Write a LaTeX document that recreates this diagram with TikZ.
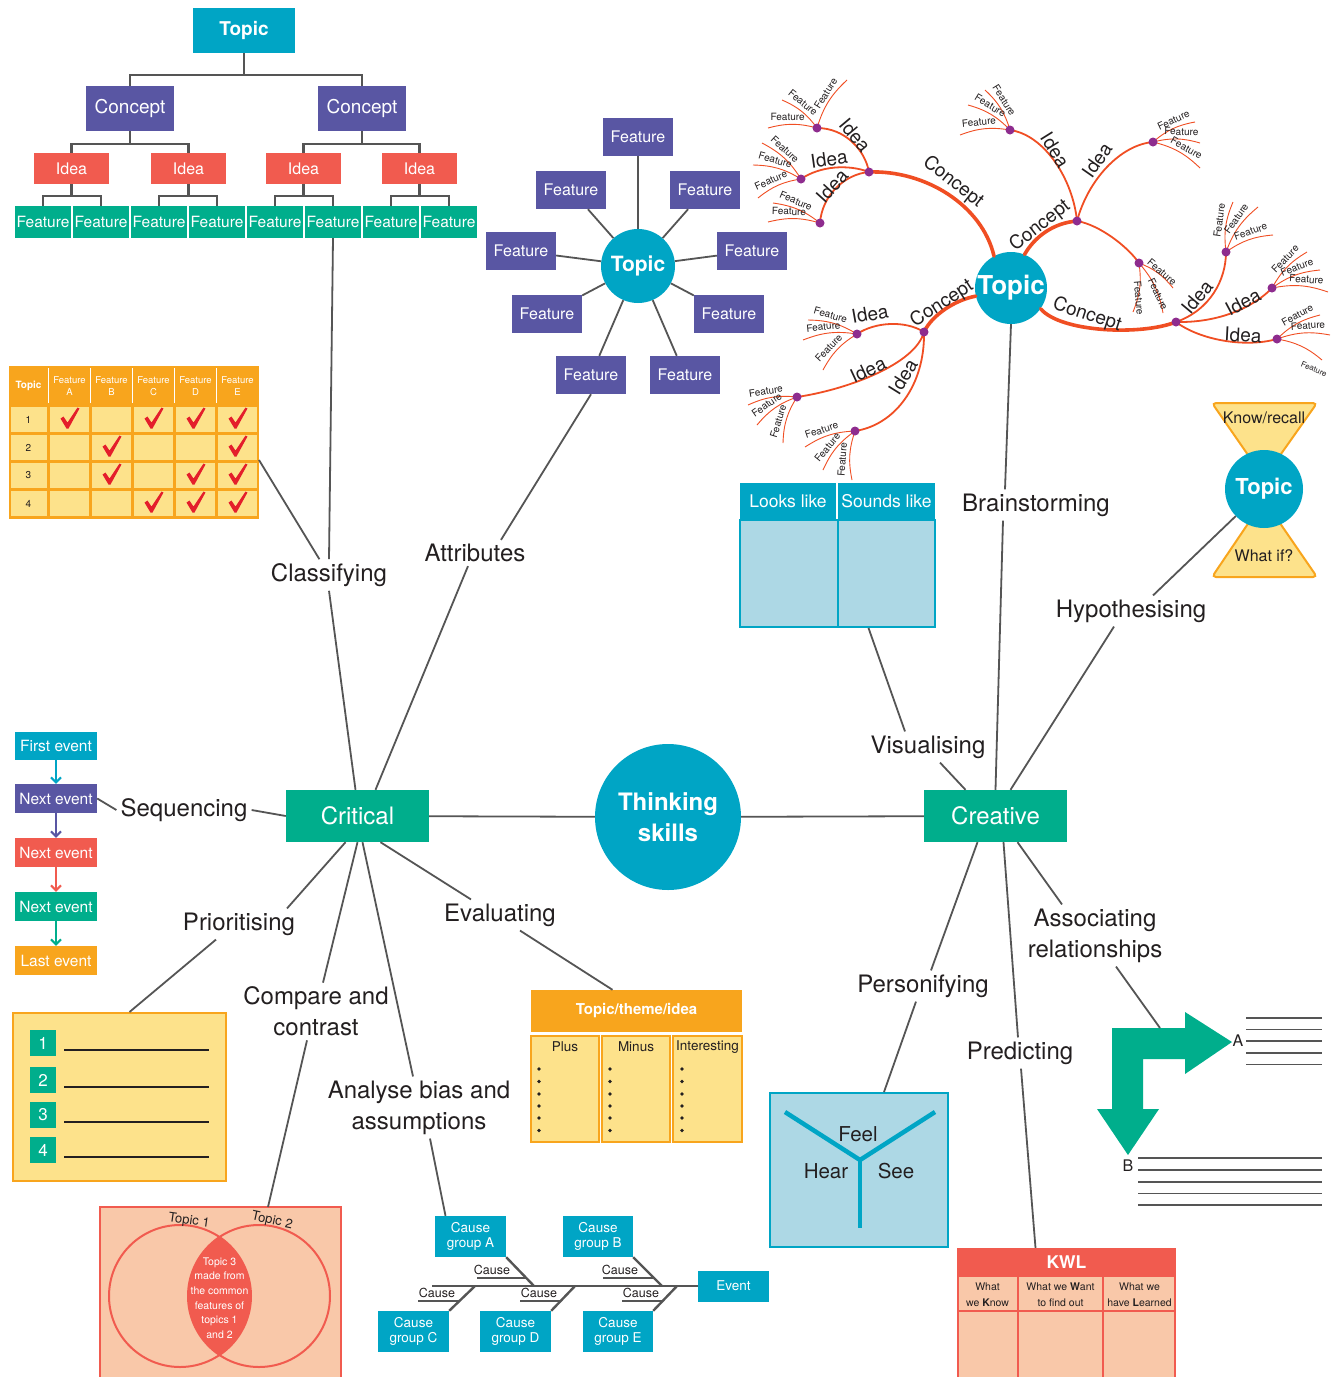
\documentclass[tikz,border=0pt]{standalone}
\usepackage{fontspec}
\setmainfont{TeX Gyre Heros}
\usetikzlibrary{arrows.meta,calc}

\definecolor{cblue}{HTML}{00A5C5}
\definecolor{cpurple}{HTML}{5956A3}
\definecolor{cred}{HTML}{F15B4F}
\definecolor{cgreen}{HTML}{00AE8C}
\definecolor{corange}{HTML}{F8A51D}
\definecolor{cyellow}{HTML}{FDE28B}
\definecolor{cpeach}{HTML}{F9C8A9}
\definecolor{clblue}{HTML}{ADD8E5}
\definecolor{cgrey}{HTML}{555555}
\definecolor{cink}{HTML}{231F20}
\definecolor{mmorange}{HTML}{F04E23}
\definecolor{mmpurple}{HTML}{8E2C8E}
\definecolor{ccheck}{HTML}{E41E2B}

\newcommand\fsz[2]{\fontsize{#1}{#2}\selectfont}
% red tick mark centred at (#1,#2)
\newcommand\chk[2]{\fill[ccheck,shift={(#1,#2)}] (-9,-1) -- (-6,-3) -- (-2,3) -- (8,-12) -- (10,-11) -- (-1,9) -- (-3,9) -- cycle;}
% feature whisker of the mind map: dot, end, text position, text angle, bend, font size
\newcommand\ftr[6]{\draw[mmfeat] (#1) to[bend left=#5] (#2);
  \node[mmtxt,font=\fsz{#6}{#6},rotate=#4] at (#3) {Feature};}

\begin{document}
\begin{tikzpicture}[x=1pt,y=-1pt,
  box/.style={rectangle,inner sep=0pt,text=white,align=center},
  lbl/.style={font=\fsz{24}{31},text=cink,align=center,inner sep=4pt},
  conn/.style={draw=cgrey,line width=1.8},
  tree/.style={draw=cgrey,line width=2.4},
  fish/.style={draw=cgrey,line width=2.4},
  mmconcept/.style={draw=mmorange,line width=3.6,line cap=round},
  mmidea/.style={draw=mmorange,line width=1.8},
  mmfeat/.style={draw=mmorange,line width=0.9},
  mmdotn/.style={circle,fill=mmpurple,inner sep=0pt,minimum size=9},
  mmtxt/.style={text=cink,inner sep=0pt},
  smalltxt/.style={text=cink,align=center,inner sep=0pt},
  seqarrow/.style={line width=2,-{Straight Barb[length=5pt,width=10pt]}},
]
\useasboundingbox (0,0) rectangle (1334,1377);
\fill[white] (0,0) rectangle (1334,1377);

%% ---------- hierarchy tree ----------
\node[box,fill=cblue,minimum width=102,minimum height=45,font=\bfseries\fsz{19}{19}] (tt) at (244,30.5) {Topic};
\node[box,fill=cpurple,minimum width=88,minimum height=45,font=\fsz{19}{19}] (tc1) at (130,108.5) {Concept};
\node[box,fill=cpurple,minimum width=88,minimum height=45,font=\fsz{19}{19}] (tc2) at (362,108.5) {Concept};
\foreach \x/\n in {71.5/1,188.5/2,303.5/3,419.5/4}
  \node[box,fill=cred,minimum width=75,minimum height=31,font=\fsz{16}{16}] (ti\n) at (\x,168.5) {Idea};
\foreach \x [count=\n] in {43,101,159,217,275,333,391,449}
  \node[box,fill=cgreen,minimum width=56,minimum height=32,font=\fsz{15.5}{15.5}] (tf\n) at (\x,222) {Feature};
\draw[tree] (tt.south) -- (244,75) -| (tc1.north);
\draw[tree] (244,75) -| (tc2.north);
\draw[tree] (tc1.south) -- (130,144) -| (ti1.north);
\draw[tree] (130,144) -| (ti2.north);
\draw[tree] (tc2.south) -- (362,144) -| (ti3.north);
\draw[tree] (362,144) -| (ti4.north);
\draw[tree] (ti1.south) -- (71.5,196) -| (tf1.north);
\draw[tree] (71.5,196) -| (tf2.north);
\draw[tree] (ti2.south) -- (188.5,196) -| (tf3.north);
\draw[tree] (188.5,196) -| (tf4.north);
\draw[tree] (ti3.south) -- (303.5,196) -| (tf5.north);
\draw[tree] (303.5,196) -| (tf6.north);
\draw[tree] (ti4.south) -- (419.5,196) -| (tf7.north);
\draw[tree] (419.5,196) -| (tf8.north);

%% ---------- classifying table ----------
\fill[corange] (9,366) rectangle (259,519);
\foreach \x in {48.5,90.5,132.5,174.5,216.5}
  \draw[white,line width=1.5] (\x,368) -- (\x,403);
\foreach \xa/\xb in {11/47,50/89,92/131,134/173,176/215,218/257}
  \foreach \ya/\yb in {407/432,435/460,463/488,491/516}
    \fill[cyellow] (\xa,\ya) rectangle (\xb,\yb);
\node[font=\bfseries\fsz{10}{10},text=white,inner sep=0pt] (tbtopic) at (28.5,386) {Topic};
\foreach \x/\l in {69.5/A,111.5/B,153.5/C,195.5/D,237.5/E}
  \node[font=\fsz{9.5}{12},text=white,align=center,inner sep=0pt] (tbh\l) at (\x,386) {Feature\\\l};
\foreach \y/\n in {419.5/1,447.5/2,475.5/3,503.5/4}
  \node[font=\fsz{10}{10},text=cink,inner sep=0pt] (tbr\n) at (28.5,\y) {\n};
\chk{69.5}{419.5}\chk{153.5}{419.5}\chk{195.5}{419.5}\chk{237.5}{419.5}
\chk{111.5}{447.5}\chk{237.5}{447.5}
\chk{111.5}{475.5}\chk{195.5}{475.5}\chk{237.5}{475.5}
\chk{153.5}{503.5}\chk{195.5}{503.5}\chk{237.5}{503.5}
\coordinate (tblr) at (259,460);

%% ---------- attribute star ----------
\node[circle,fill=cblue,minimum size=74,inner sep=0pt,text=white,font=\bfseries\fsz{21}{21}] (atop) at (638,266) {Topic};
\foreach \x/\y [count=\n] in {638/137,571/190,705/190,521/251,752/251,547/314,729/314,591/375,685/375}{
  \node[box,fill=cpurple,minimum width=70,minimum height=38,font=\fsz{16}{16}] (af\n) at (\x,\y) {Feature};
  \draw[conn] (atop) -- (af\n);
}

%% ---------- sequence ----------
\node[box,fill=cblue,minimum width=82,minimum height=28,font=\fsz{15.5}{15.5}] (sq1) at (56,746) {First event};
\node[box,fill=cpurple,minimum width=82,minimum height=29,font=\fsz{15.5}{15.5}] (sq2) at (56,798.5) {Next event};
\node[box,fill=cred,minimum width=82,minimum height=29,font=\fsz{15.5}{15.5}] (sq3) at (56,852.5) {Next event};
\node[box,fill=cgreen,minimum width=82,minimum height=29,font=\fsz{15.5}{15.5}] (sq4) at (56,906.5) {Next event};
\node[box,fill=corange,minimum width=82,minimum height=29,font=\fsz{15.5}{15.5}] (sq5) at (56,960.5) {Last event};
\draw[seqarrow,cblue] (sq1) -- (sq2);
\draw[seqarrow,cpurple] (sq2) -- (sq3);
\draw[seqarrow,cred] (sq3) -- (sq4);
\draw[seqarrow,cgreen] (sq4) -- (sq5);

%% ---------- priority list ----------
\node[box,fill=cyellow,draw=corange,line width=2,minimum width=213,minimum height=168] (pbox) at (119.5,1097) {};
\foreach \y/\n in {1043/1,1080/2,1115/3,1150/4}{
  \node[box,fill=cgreen,minimum size=26,font=\fsz{17}{17}] (pn\n) at (43,\y) {\n};
  \draw[cink,line width=1.2] (64,\y+7) -- (209,\y+7);
}

%% ---------- Venn diagram ----------
\fill[cpeach] (100,1207) rectangle (341,1377);
\draw[cred,line width=2] (100,1377) -- (100,1207) -- (341,1207) -- (341,1377);
\coordinate (venntop) at (268,1207);
\begin{scope}
  \clip (180,1296) circle[radius=71pt];
  \fill[cred] (259,1296) circle[radius=71pt];
\end{scope}
\draw[cred,line width=2] (180,1296) circle[radius=71pt];
\draw[cred,line width=2] (259,1296) circle[radius=71pt];
\node[text=white,font=\fsz{10.5}{14.7},align=center,inner sep=0pt] (vtxt) at (219.5,1298) {Topic 3\\made from\\the common\\features of\\topics 1\\and 2};
\node[mmtxt,font=\fsz{13}{13},rotate=-8] (vt1) at (189,1221) {Topic 1};
\node[mmtxt,font=\fsz{13}{13},rotate=-12] (vt2) at (272,1221) {Topic 2};

%% ---------- fishbone ----------
\node[box,fill=cblue,minimum width=71,minimum height=41,font=\fsz{13.5}{15.7}] (cga) at (470.5,1236.5) {Cause\\group A};
\node[box,fill=cblue,minimum width=70,minimum height=41,font=\fsz{13.5}{15.7}] (cgb) at (598,1236.5) {Cause\\group B};
\node[box,fill=cblue,minimum width=71,minimum height=41,font=\fsz{13.5}{15.7}] (cgc) at (413.5,1331.5) {Cause\\group C};
\node[box,fill=cblue,minimum width=71,minimum height=41,font=\fsz{13.5}{15.7}] (cgd) at (515.5,1331.5) {Cause\\group D};
\node[box,fill=cblue,minimum width=70,minimum height=41,font=\fsz{13.5}{15.7}] (cge) at (618,1331.5) {Cause\\group E};
\node[box,fill=cblue,minimum width=71,minimum height=31,font=\fsz{13.5}{13.5}] (evt) at (733.5,1286) {Event};
\draw[fish] (432,1286) -- (evt.west);
\draw[fish] (cga.south east) -- (534,1286);
\draw[fish] (cgb.south east) -- (662,1286);
\draw[fish] (cgc.north east) -- (475,1286);
\draw[fish] (cgd.north east) -- (575,1286);
\draw[fish] (cge.north east) -- (677,1286);
\draw[fish] (477,1278) -- (526,1278);
\draw[fish] (603,1278) -- (654,1278);
\draw[fish] (418,1301) -- (460,1301);
\draw[fish] (520,1301) -- (561,1301);
\draw[fish] (622,1301) -- (663,1301);
\node[mmtxt,font=\fsz{12.5}{12.5}] (ca1) at (492,1270) {Cause};
\node[mmtxt,font=\fsz{12.5}{12.5}] (ca2) at (620,1270) {Cause};
\node[mmtxt,font=\fsz{12.5}{12.5}] (ca3) at (437,1293) {Cause};
\node[mmtxt,font=\fsz{12.5}{12.5}] (ca4) at (539,1293) {Cause};
\node[mmtxt,font=\fsz{12.5}{12.5}] (ca5) at (641,1293) {Cause};

%% ---------- plus / minus / interesting ----------
\node[box,fill=corange,minimum width=211,minimum height=42,font=\bfseries\fsz{15}{15}] (pmih) at (636.5,1011) {Topic/theme/idea};
\node[box,fill=cyellow,draw=corange,line width=2,minimum width=68,minimum height=106] (pmi1) at (565,1089) {};
\node[box,fill=cyellow,draw=corange,line width=2,minimum width=68,minimum height=106] (pmi2) at (636,1089) {};
\node[box,fill=cyellow,draw=corange,line width=2,minimum width=69,minimum height=106] (pmi3) at (707.5,1089) {};
\node[mmtxt,font=\fsz{13.5}{13.5}] (pmt1) at (565,1047) {Plus};
\node[mmtxt,font=\fsz{13.5}{13.5}] (pmt2) at (636,1047) {Minus};
\node[mmtxt,font=\fsz{13.5}{13.5}] (pmt3) at (707.5,1047) {Interesting};
\foreach \x in {539,610,682}
  \foreach \y in {1069,1081.5,1094,1106,1118,1130.5}
    \fill[cink] (\x,\y) circle[radius=1.8pt];

%% ---------- centre ----------
\node[circle,fill=cblue,minimum size=146,inner sep=0pt,text=white,align=center,font=\bfseries\fsz{24}{31}] (think) at (668,817) {Thinking\\skills};
\node[box,fill=cgreen,minimum width=143,minimum height=52,font=\fsz{24}{24}] (crit) at (357.5,816) {Critical};
\node[box,fill=cgreen,minimum width=143,minimum height=52,font=\fsz{24}{24}] (creat) at (995.5,816) {Creative};
\draw[conn] (crit) -- (think);
\draw[conn] (think) -- (creat);

%% ---------- critical thinking labels ----------
\node[lbl] (lclass) at (329,575) {Classifying};
\node[lbl] (lattr) at (475,553) {Attributes};
\node[lbl] (lseq) at (184,810) {Sequencing};
\node[lbl] (lprio) at (239,924) {Prioritising};
\node[lbl] (lcomp) at (316,1011.5) {Compare and\\contrast};
\node[lbl] (lbias) at (419,1107.5) {Analyse bias and\\assumptions};
\node[lbl] (leval) at (500,915) {Evaluating};

\draw[conn] (tf6.south) -- (lclass.north);
\draw[conn] (tblr) -- (lclass);
\draw[conn] (lclass.south) -- ($(crit.north)+(-2,0)$);
\draw[conn] (af8.south) -- ($(lattr.north)+(26,0)$);
\draw[conn] ($(lattr.south)+(-7,0)$) -- ($(crit.north)+(18,0)$);
\draw[conn] (sq2.east) -- (lseq.west);
\draw[conn] (lseq.east) -- (crit.west);
\draw[conn] ($(crit.south)+(-12,0)$) -- ($(lprio.north)+(48,0)$);
\draw[conn] ($(lprio.south)+(-23,0)$) -- ($(pbox.north)+(10,0)$);
\draw[conn] (crit.south) -- ($(lcomp.north)+(7,0)$);
\draw[conn] ($(lcomp.south)+(-9,0)$) -- (venntop);
\draw[conn] ($(crit.south)+(5,0)$) -- ($(lbias.north)+(-6,0)$);
\draw[conn] ($(lbias.south)+(11,0)$) -- ($(cga.north)+(-25,0)$);
\draw[conn] ($(crit.south)+(23,0)$) -- ($(leval.north)+(-29,0)$);
\draw[conn] ($(leval.south)+(20,0)$) -- ($(pmih.north)+(-24,0)$);

%% ---------- looks like / sounds like ----------
\node[box,fill=clblue,draw=cblue,line width=2,minimum width=195,minimum height=107] (vbody) at (837.5,573.5) {};
\draw[cblue,line width=2] (837.5,520) -- (837.5,627);
\node[box,fill=cblue,minimum width=96,minimum height=37,font=\fsz{17.5}{17.5}] (vlook) at (788,501.5) {Looks like};
\node[box,fill=cblue,minimum width=97,minimum height=37,font=\fsz{17.5}{17.5}] (vsound) at (886.5,501.5) {Sounds like};

%% ---------- know / what if ----------
\draw[fill=cyellow,draw=corange,line width=2,rounded corners=4] (1212,403) -- (1317,403) -- (1264,478) -- cycle;
\draw[fill=cyellow,draw=corange,line width=2,rounded corners=4] (1264,500) -- (1317,577) -- (1212,577) -- cycle;
\node[mmtxt,font=\fsz{16}{16}] (hgk) at (1264,418) {Know/recall};
\node[mmtxt,font=\fsz{16}{16}] (hgw) at (1264,556) {What if?};
\node[circle,fill=cblue,minimum size=78,inner sep=0pt,text=white,font=\bfseries\fsz{22}{22}] (hgt) at (1264,489) {Topic};

%% ---------- feel / hear / see ----------
\node[box,fill=clblue,draw=cblue,line width=2,minimum width=178,minimum height=154] (ybox) at (859,1170) {};
\draw[cblue,line width=4.5] (785,1112) -- (860,1160) -- (935,1112);
\draw[cblue,line width=4.5] (860,1160) -- (860,1228);
\node[mmtxt,font=\fsz{20.5}{20.5}] (yfeel) at (858,1134) {Feel};
\node[mmtxt,font=\fsz{20.5}{20.5}] (yhear) at (826,1171) {Hear};
\node[mmtxt,font=\fsz{20.5}{20.5}] (ysee) at (896,1171) {See};

%% ---------- A / B arrow ----------
\fill[cgreen] (1112,1028) -- (1185,1028) -- (1185,1012) -- (1232,1042) -- (1185,1074) -- (1185,1059)
  -- (1143,1059) -- (1143,1109) -- (1159,1109) -- (1128,1155) -- (1097,1109) -- (1112,1109) -- cycle;
\coordinate (arrtop) at (1160,1028);
\node[mmtxt,font=\fsz{16}{16}] (la) at (1238,1041) {A};
\node[mmtxt,font=\fsz{16}{16}] (lb) at (1128,1166) {B};
\foreach \y in {1018,1029.5,1041,1053,1064.5}
  \draw[cgrey,line width=1.2] (1246,\y) -- (1322,\y);
\foreach \y in {1158,1170,1182,1193.5,1205}
  \draw[cgrey,line width=1.2] (1138,\y) -- (1322,\y);

%% ---------- KWL chart ----------
\fill[cpeach] (957,1277) rectangle (1176,1377);
\node[box,fill=cred,minimum width=219,minimum height=29,font=\bfseries\fsz{17.5}{17.5}] (kwlh) at (1066.5,1262.5) {KWL};
\foreach \x in {958,1018,1103,1175}
  \draw[cred,line width=2.5] (\x,1277) -- (\x,1377);
\draw[cred,line width=2.5] (957,1311) -- (1176,1311);
\node[smalltxt,font=\fsz{10.5}{16}] (kw1) at (987.5,1294.5) {What\\we \textbf{K}now};
\node[smalltxt,font=\fsz{10.5}{16}] (kw2) at (1060.5,1294.5) {What we \textbf{W}ant\\to find out};
\node[smalltxt,font=\fsz{10.5}{16}] (kw3) at (1139.5,1294.5) {What we\\have \textbf{L}earned};

%% ---------- brainstorm mind map ----------
\node[circle,fill=cblue,minimum size=72,inner sep=0pt,text=white,font=\bfseries\fsz{26}{26}] (mmt) at (1011,288) {Topic};
\coordinate (n1) at (869,172);
\coordinate (n2) at (1077,221);
\coordinate (n3) at (924,332);
\coordinate (n4) at (1176,322);
\draw[mmconcept] (mmt.118) .. controls (982,205) and (925,170) .. (n1);
\draw[mmconcept] (mmt.68) .. controls (1034,238) and (1052,223) .. (n2);
\draw[mmconcept] (mmt.193) .. controls (955,300) and (932,315) .. (n3);
\draw[mmconcept] (mmt.325) .. controls (1060,332) and (1140,336) .. (n4);

\coordinate (i1a) at (817,128);
\coordinate (i1b) at (801,179);
\coordinate (i1c) at (820,223);
\coordinate (i2a) at (1010,130);
\coordinate (i2b) at (1153,142);
\coordinate (i2c) at (1139,263);
\coordinate (i3a) at (857,334);
\coordinate (i3b) at (797,397);
\coordinate (i3c) at (855,431);
\coordinate (i4a) at (1226,252);
\coordinate (i4b) at (1272,288);
\coordinate (i4c) at (1277,339);
\draw[mmidea] (n1) .. controls (865,150) and (845,128) .. (i1a);
\draw[mmidea] (n1) .. controls (848,164) and (820,166) .. (i1b);
\draw[mmidea] (n1) .. controls (845,174) and (822,195) .. (i1c);
\draw[mmidea] (n2) .. controls (1073,180) and (1045,135) .. (i2a);
\draw[mmidea] (n2) .. controls (1088,180) and (1120,145) .. (i2b);
\draw[mmidea] (n2) .. controls (1100,225) and (1128,247) .. (i2c);
\draw[mmidea] (n3) .. controls (905,320) and (875,322) .. (i3a);
\draw[mmidea] (n3) .. controls (915,365) and (845,390) .. (i3b);
\draw[mmidea] (n3) .. controls (925,385) and (895,425) .. (i3c);
\draw[mmidea] (n4) .. controls (1210,310) and (1226,280) .. (i4a);
\draw[mmidea] (n4) .. controls (1225,323) and (1258,303) .. (i4b);
\draw[mmidea] (n4) .. controls (1200,340) and (1245,348) .. (i4c);

\ftr{i1a}{782,100}{803,102.6}{-39}{-15}{10}
\ftr{i1a}{847,80}{825.7,93.4}{58}{15}{10}
\ftr{i1a}{768,128}{787.6,117}{0}{-15}{10}
\ftr{i1b}{762,143}{785,149.3}{-43}{-15}{10}
\ftr{i1b}{753,165}{775.3,160}{-16}{-15}{10}
\ftr{i1b}{758,198}{770.8,180.3}{24}{-15}{10}
\ftr{i1c}{773,203}{796,200.9}{-23}{-15}{10}
\ftr{i1c}{768,222}{789,211.4}{-1}{-15}{10}
\ftr{i2a}{985,90}{1004.3,100.2}{-58}{-15}{10}
\ftr{i2a}{968,105}{990.4,105.6}{-31}{-15}{10}
\ftr{i2a}{960,135}{978.9,122}{6}{-15}{10}
\ftr{i2b}{1195,122}{1173.5,120.1}{25}{15}{10}
\ftr{i2b}{1200,143}{1181.4,131.6}{-1}{15}{10}
\ftr{i2b}{1200,168}{1186.5,148}{-29}{15}{10}
\ftr{i2c}{1173,288}{1162,272}{-40}{15}{10}
\ftr{i2c}{1163,313}{1158,294}{-65}{15}{10}
\ftr{i2c}{1133,312}{1139,298}{-85}{15}{10}
\ftr{i4a}{1233,202}{1219.3,220.5}{82}{15}{10}
\ftr{i4a}{1258,207}{1236.2,218.6}{55}{15}{10}
\ftr{i4a}{1273,235}{1250.5,231.5}{20}{15}{10}
\ftr{i4b}{1307,252}{1285.1,258.7}{46}{15}{10}
\ftr{i4b}{1320,270}{1296.9,266.9}{21}{15}{10}
\ftr{i4b}{1328,292}{1306.4,279.4}{-4}{15}{10}
\ftr{i4c}{1320,315}{1297.4,315}{29}{15}{10}
\ftr{i4c}{1330,335}{1308,325.6}{4}{15}{10}
\ftr{i4c}{1322,360}{1314,369}{-22}{15}{8}
\ftr{i3a}{808,320}{830.6,315}{-16}{-15}{10}
\ftr{i3a}{803,340}{823.4,326.7}{6}{-15}{10}
\ftr{i3a}{823,370}{828.6,348}{47}{-15}{10}
\ftr{i3b}{748,405}{765.8,390.9}{9}{-15}{10}
\ftr{i3b}{757,425}{766.7,404.8}{35}{-15}{10}
\ftr{i3b}{783,443}{778.1,421.4}{73}{-15}{10}
\ftr{i3c}{805,447}{821.6,430.1}{18}{-15}{10}
\ftr{i3c}{823,470}{827.3,447.4}{51}{-15}{10}
\ftr{i3c}{852,480}{842.2,459.7}{86}{-15}{10}

\foreach \p in {n1,n2,n3,n4,i1a,i1b,i1c,i2a,i2b,i2c,i3a,i3b,i3c,i4a,i4b,i4c}
  \node[mmdotn] (d\p) at (\p) {};

\node[mmtxt,font=\fsz{19}{19},rotate=-38] (lcon1) at (953,182) {Concept};
\node[mmtxt,font=\fsz{19}{19},rotate=38] (lcon2) at (1040,226) {Concept};
\node[mmtxt,font=\fsz{19}{19},rotate=33] (lcon3) at (942,304) {Concept};
\node[mmtxt,font=\fsz{19}{19},rotate=-18] (lcon4) at (1087,315) {Concept};
\node[mmtxt,font=\fsz{19}{19},rotate=-50] (lid1) at (855,135) {Idea};
\node[mmtxt,font=\fsz{19}{19},rotate=8] (lid2) at (829,159) {Idea};
\node[mmtxt,font=\fsz{19}{19},rotate=48] (lid3) at (832,186) {Idea};
\node[mmtxt,font=\fsz{19}{19},rotate=-58] (lid4) at (1055,150) {Idea};
\node[mmtxt,font=\fsz{19}{19},rotate=55] (lid5) at (1097,160) {Idea};
\node[mmtxt,font=\fsz{19}{19},rotate=10] (lid6) at (870,314) {Idea};
\node[mmtxt,font=\fsz{19}{19},rotate=25] (lid7) at (868,370) {Idea};
\node[mmtxt,font=\fsz{19}{19},rotate=58] (lid8) at (903,377) {Idea};
\node[mmtxt,font=\fsz{19}{19},rotate=50] (lid9) at (1197,297) {Idea};
\node[mmtxt,font=\fsz{19}{19},rotate=28] (lid10) at (1243,302) {Idea};
\node[mmtxt,font=\fsz{19}{19},rotate=-3] (lid11) at (1243,335) {Idea};

%% ---------- creative thinking labels ----------
\node[lbl] (lbrain) at (1036,505) {Brainstorming};
\node[lbl] (lvis) at (928,747) {Visualising};
\node[lbl] (lhyp) at (1131,611) {Hypothesising};
\node[lbl] (lassoc) at (1095,935.5) {Associating\\relationships};
\node[lbl] (lpers) at (923,986) {Personifying};
\node[lbl] (lpred) at (1020,1053) {Predicting};

\draw[conn] (mmt.south) -- ($(lbrain.north)+(-31,0)$);
\draw[conn] ($(lbrain.south)+(-33,0)$) -- (creat.north);
\draw[conn] ($(vbody.south)+(31,0)$) -- ($(lvis.north)+(-23,0)$);
\draw[conn] ($(lvis.south)+(12,0)$) -- ($(creat.north)+(-30,0)$);
\draw[conn] (hgt) -- ($(lhyp.north)+(22,0)$);
\draw[conn] ($(lhyp.south)+(-17,0)$) -- ($(creat.north)+(15,0)$);
\draw[conn] ($(creat.south)+(22,0)$) -- ($(lassoc.north)+(-33,0)$);
\draw[conn] ($(lassoc.south)+(21,0)$) -- (arrtop);
\draw[conn] ($(creat.south)+(-18,0)$) -- ($(lpers.north)+(8,0)$);
\draw[conn] ($(lpers.south)+(-7,0)$) -- ($(ybox.north)+(25,0)$);
\draw[conn] ($(creat.south)+(8,0)$) -- ($(lpred.north)+(-2,0)$);
\draw[conn] ($(lpred.south)+(1,0)$) -- ($(kwlh.north)+(-31,0)$);

\end{tikzpicture}
\end{document}
